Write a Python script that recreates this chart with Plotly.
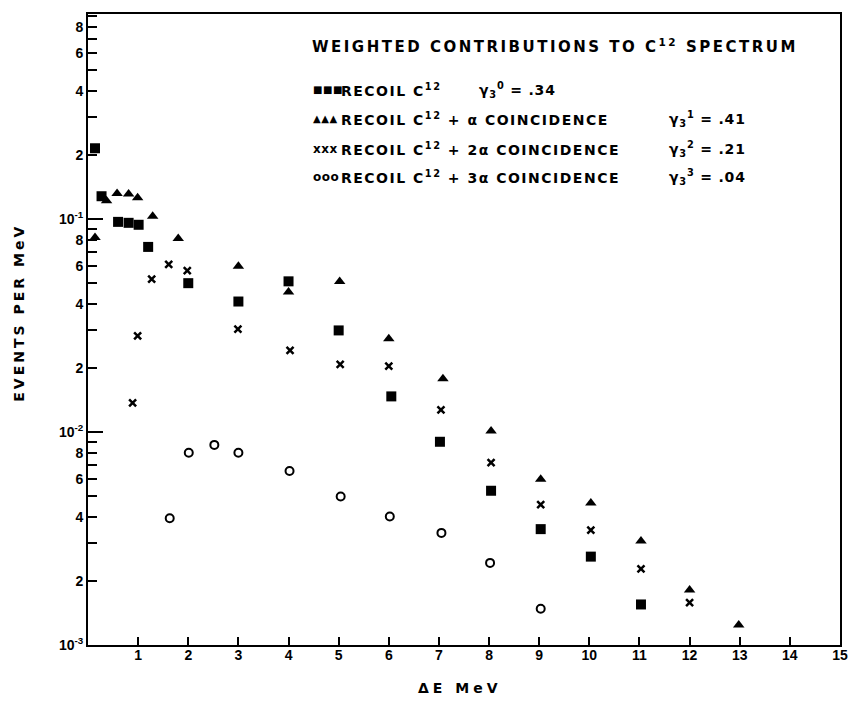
import math
import plotly.graph_objects as go

# ---------------- data ----------------
recoil_x = [0.14, 0.27, 0.60, 0.81, 1.01, 1.20, 2.00, 3.00, 4.00, 5.00, 6.05, 7.02, 8.04, 9.03, 10.03, 11.03]
recoil_y = [0.215, 0.128, 0.097, 0.096, 0.094, 0.074, 0.050, 0.041, 0.051, 0.030, 0.0147, 0.0090, 0.0053, 0.0035, 0.0026, 0.00155]

alpha1_x = [0.14, 0.37, 0.58, 0.81, 0.99, 1.29, 1.80, 3.00, 4.00, 5.02, 6.00, 7.08, 8.04, 9.03, 10.03, 11.03, 12.00, 12.98]
alpha1_y = [0.082, 0.122, 0.132, 0.131, 0.126, 0.103, 0.081, 0.060, 0.0454, 0.0509, 0.0274, 0.0178, 0.0101, 0.0060, 0.00464, 0.00308, 0.00181, 0.00124]

alpha2_x = [0.89, 0.99, 1.27, 1.61, 1.98, 2.99, 4.03, 5.03, 6.00, 7.04, 8.04, 9.03, 10.03, 11.03, 12.00]
alpha2_y = [0.0137, 0.0283, 0.0522, 0.0612, 0.0573, 0.0304, 0.0242, 0.0208, 0.0204, 0.0127, 0.00718, 0.00456, 0.00346, 0.00228, 0.00158]

alpha3_x = [1.63, 2.01, 2.52, 3.00, 4.02, 5.04, 6.02, 7.05, 8.02, 9.03]
alpha3_y = [0.00394, 0.0080, 0.0087, 0.0080, 0.00656, 0.00498, 0.00401, 0.00336, 0.00243, 0.00148]

x_tick_vals = list(range(1, 16))
x_tick_text = [str(v) for v in x_tick_vals]

decades = [1e-3, 1e-2, 1e-1]
decade_labels = ["10<sup>-3</sup>", "10<sup>-2</sup>", "10<sup>-1</sup>"]
labelled_mantissas = {1: None, 2: "2", 4: "4", 6: "6", 8: "8"}
minor_mantissas = [3, 5, 7, 9]
y_top = 0.918

legend_title = "WEIGHTED CONTRIBUTIONS TO C<sup>12</sup> SPECTRUM"
legend_names = [
    "RECOIL C<sup>12</sup>",
    "RECOIL C<sup>12</sup> + α COINCIDENCE",
    "RECOIL C<sup>12</sup> + 2α COINCIDENCE",
    "RECOIL C<sup>12</sup> + 3α COINCIDENCE",
]
legend_glyphs = ["■■■", "▲▲▲", "xxx", "ooo"]
legend_weights = [
    "γ<sub>3</sub><sup>0</sup> = .34",
    "γ<sub>3</sub><sup>1</sup> = .41",
    "γ<sub>3</sub><sup>2</sup> = .21",
    "γ<sub>3</sub><sup>3</sup> = .04",
]

# ---------------- build ticks ----------------
y_tick_vals, y_tick_text, y_minor_vals = [], [], []
for d, dl in zip(decades, decade_labels):
    for m, lab in labelled_mantissas.items():
        if m * d <= y_top:
            y_tick_vals.append(m * d)
            y_tick_text.append(dl if m == 1 else lab)
    for m in minor_mantissas:
        if m * d < y_top * 0.99:
            y_minor_vals.append(m * d)

# ---------------- figure ----------------
W, H = 860, 710
L, R, T, B = 88, 13, 12, 65
PW, PH = W - L - R, H - T - B

def px(xp):
    return (xp - L) / PW

def py(yp):
    return (H - B - yp) / PH

fig = go.Figure()
fig.add_trace(go.Scatter(x=recoil_x, y=recoil_y, mode="markers",
                         marker=dict(symbol="square", size=10, color="black"), showlegend=False))
fig.add_trace(go.Scatter(x=alpha1_x, y=alpha1_y, mode="markers",
                         marker=dict(symbol="triangle-up", size=10, color="black"), showlegend=False))
fig.add_trace(go.Scatter(x=alpha2_x, y=alpha2_y, mode="markers",
                         marker=dict(symbol="x-thin-open", size=7, color="black",
                                     line=dict(width=2.5, color="black")), showlegend=False))
fig.add_trace(go.Scatter(x=alpha3_x, y=alpha3_y, mode="markers",
                         marker=dict(symbol="circle-open", size=8, color="black",
                                     line=dict(width=2, color="black")), showlegend=False))
# helper trace so that the overlay axis (long decade ticks) is drawn
fig.add_trace(go.Scatter(x=[None], y=[None], yaxis="y2", showlegend=False, hoverinfo="skip"))

tick_font = dict(family="Liberation Sans, Arial, sans-serif", size=14, color="black", weight="bold")
yrange = [-3, math.log10(y_top)]

fig.update_layout(
    width=W, height=H,
    margin=dict(l=L, r=R, t=T, b=B),
    paper_bgcolor="white", plot_bgcolor="white",
    xaxis=dict(range=[0, 15], tickmode="array", tickvals=x_tick_vals, ticktext=x_tick_text,
               ticks="inside", ticklen=8, tickwidth=2, tickcolor="black", ticklabelstandoff=-4,
               showline=True, linewidth=2, linecolor="black", mirror=True,
               showgrid=False, zeroline=False, tickfont=tick_font),
    yaxis=dict(type="log", range=yrange,
               tickmode="array", tickvals=y_tick_vals, ticktext=y_tick_text,
               ticks="inside", ticklen=9, tickwidth=2, tickcolor="black",
               minor=dict(tickmode="array", tickvals=y_minor_vals, ticks="inside",
                          ticklen=9, tickwidth=2, tickcolor="black", showgrid=False),
               showline=True, linewidth=2, linecolor="black", mirror=True,
               showgrid=False, zeroline=False, tickfont=tick_font),
    yaxis2=dict(type="log", range=yrange, overlaying="y",
                side="left", anchor="x", tickmode="array", tickvals=decades,
                ticks="inside", ticklen=15, tickwidth=2, tickcolor="black",
                showticklabels=False, showgrid=False, zeroline=False, showline=False),
)

ann, spacing = [], []

def add(text, xp, yp, size, spc, xanchor="left", angle=0, family="DejaVu Sans, sans-serif", bold=True):
    ann.append(dict(text=text, x=px(xp), y=py(yp), xref="paper", yref="paper",
                    showarrow=False, xanchor=xanchor, yanchor="middle", textangle=angle,
                    align="left" if xanchor == "left" else "center",
                    font=dict(family=family, size=size, color="black",
                              weight="bold" if bold else "normal")))
    spacing.append(spc)

add("EVENTS PER MeV", 18, 312, 14, 3, xanchor="center", angle=-90)
add("ΔE MeV", 463, 688, 14, 4, xanchor="center")
add(legend_title, 312, 44, 15, 2.5)
rows_y = [88, 117, 147, 176]
weight_x = [481, 672, 672, 672]
glyph_sizes = [10, 10, 12, 12]
for g, gs, name, wt, yy, wx in zip(legend_glyphs, glyph_sizes, legend_names, legend_weights, rows_y, weight_x):
    add(g, 313, yy, gs, 0.5)
    add(name, 341, yy, 14, 1.5)
    add(wt, wx, yy, 14, 0.8)
fig.update_layout(annotations=ann)

post = (
    "document.documentElement.style.margin='0';"
    "document.body.style.margin='0';document.body.style.padding='0';"
    "document.body.style.overflow='hidden';"
    "var sp=%s;"
    "var gd=document.getElementById('{plot_id}');"
    "gd.querySelectorAll('.annotation').forEach(function(g){"
    "var i=+g.getAttribute('data-index');var t=g.querySelector('text.annotation-text');"
    "if(t&&sp[i]){t.style.letterSpacing=sp[i]+'px';}});"
) % str(spacing)

fig.write_html("out.html", post_script=post, config={"displayModeBar": False})
